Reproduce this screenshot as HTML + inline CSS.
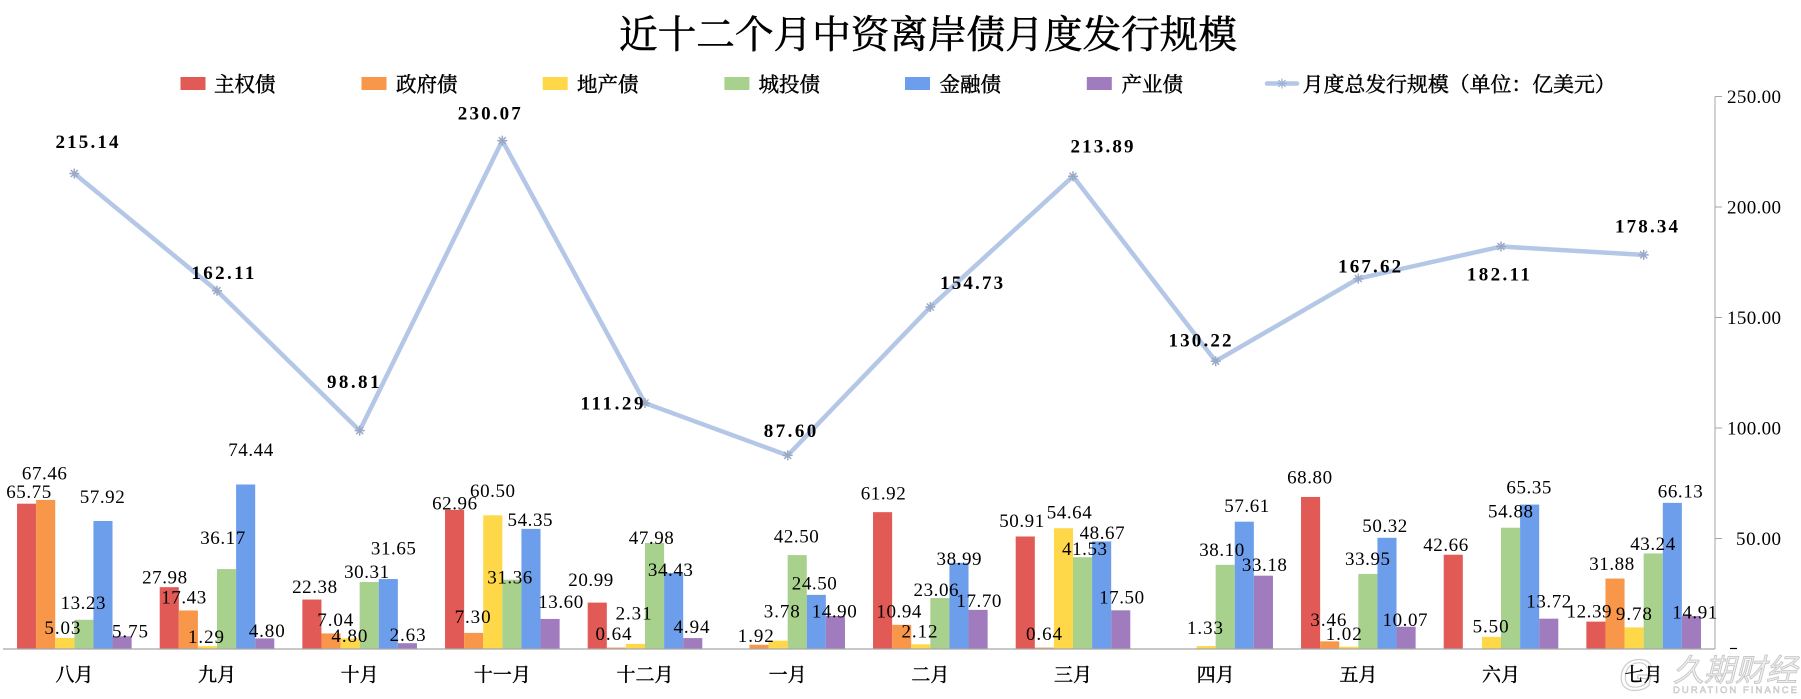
<!DOCTYPE html>
<html><head><meta charset="utf-8"><style>
html,body{margin:0;padding:0;background:#fff;}
svg{display:block;}
.cj{font-family:"Liberation Serif","Noto Serif CJK SC",serif;}
.n{font-family:"Liberation Serif","Noto Serif CJK SC",serif;font-size:19px;fill:#000;text-anchor:middle;}
.L{font-family:"Liberation Serif","Noto Serif CJK SC",serif;font-size:19px;font-weight:bold;fill:#000;text-anchor:middle;}
.ax{font-family:"Liberation Serif","Noto Serif CJK SC",serif;font-size:19px;fill:#000;}
.cat{font-family:"Liberation Serif","Noto Serif CJK SC",serif;font-size:19px;fill:#000;text-anchor:middle;stroke:#000;stroke-width:0.45px;}
.lg{font-family:"Liberation Serif","Noto Serif CJK SC",serif;font-size:20.5px;fill:#000;stroke:#000;stroke-width:0.45px;}
</style></head><body>
<svg width="1801" height="699" viewBox="0 0 1801 699" xmlns="http://www.w3.org/2000/svg">
<rect width="1801" height="699" fill="#fff"/>
<!-- title -->
<text class="cj" x="619" y="48" font-size="38.6" textLength="618" lengthAdjust="spacingAndGlyphs" fill="#000" stroke="#000" stroke-width="0.6">近十二个月中资离岸债月度发行规模</text>
<!-- legend -->
<rect x="180.5" y="77" width="25" height="13" fill="#E15A55"/><text class="lg" x="214" y="91.5">主权债</text>
<rect x="361.5" y="77" width="25" height="13" fill="#F8964A"/><text class="lg" x="396" y="91.5">政府债</text>
<rect x="542.7" y="77" width="25" height="13" fill="#FFD84A"/><text class="lg" x="577" y="91.5">地产债</text>
<rect x="724.4" y="77" width="25" height="13" fill="#A9D18E"/><text class="lg" x="758.5" y="91.5">城投债</text>
<rect x="905" y="77" width="25" height="13" fill="#6D9EEB"/><text class="lg" x="939.5" y="91.5">金融债</text>
<rect x="1086.8" y="77" width="25" height="13" fill="#A07CBE"/><text class="lg" x="1121.5" y="91.5">产业债</text>
<line x1="1267" y1="83.5" x2="1297" y2="83.5" stroke="#B4C7E7" stroke-width="4.5" stroke-linecap="round"/>
<g stroke="#9FB2D4" stroke-width="1.2"><line x1="1277" y1="83.5" x2="1287" y2="83.5"/><line x1="1282" y1="78.5" x2="1282" y2="88.5"/><line x1="1278.5" y1="80" x2="1285.5" y2="87"/><line x1="1285.5" y1="80" x2="1278.5" y2="87"/></g>
<text class="lg" x="1302.7" y="91.5" textLength="313" lengthAdjust="spacingAndGlyphs">月度总发行规模（单位：亿美元）</text>

<!-- right axis -->
<line x1="1715" y1="96.5" x2="1715" y2="649" stroke="#A6A6A6" stroke-width="1"/>
<g stroke="#A6A6A6" stroke-width="1">
<line x1="1715" y1="96.5" x2="1722" y2="96.5"/><line x1="1715" y1="207" x2="1722" y2="207"/><line x1="1715" y1="317.5" x2="1722" y2="317.5"/><line x1="1715" y1="428" x2="1722" y2="428"/><line x1="1715" y1="538.5" x2="1722" y2="538.5"/>
</g>
<text class="ax" x="1727" y="103" textLength="54">250.00</text>
<text class="ax" x="1727" y="213.5" textLength="54">200.00</text>
<text class="ax" x="1727" y="324" textLength="54">150.00</text>
<text class="ax" x="1727" y="434.5" textLength="54">100.00</text>
<text class="ax" x="1736" y="545" textLength="45">50.00</text>
<line x1="1730" y1="648.5" x2="1737" y2="648.5" stroke="#000" stroke-width="1.2"/>

<!-- bars -->
<g transform="matrix(1 0 0 -2.21 0 649)">
<g fill="#E15A55">
<rect x="17.03" y="0" width="19.1" height="65.75"/><rect x="159.70" y="0" width="19.1" height="27.98"/><rect x="302.36" y="0" width="19.1" height="22.38"/><rect x="445.03" y="0" width="19.1" height="62.96"/><rect x="587.70" y="0" width="19.1" height="20.99"/><rect x="873.03" y="0" width="19.1" height="61.92"/><rect x="1015.70" y="0" width="19.1" height="50.91"/><rect x="1301.03" y="0" width="19.1" height="68.80"/><rect x="1443.70" y="0" width="19.1" height="42.66"/><rect x="1586.36" y="0" width="19.1" height="12.39"/>
</g>
<g fill="#F8964A">
<rect x="36.13" y="0" width="19.1" height="67.46"/><rect x="178.80" y="0" width="19.1" height="17.43"/><rect x="321.46" y="0" width="19.1" height="7.04"/><rect x="464.13" y="0" width="19.1" height="7.30"/><rect x="606.80" y="0" width="19.1" height="0.64"/><rect x="749.46" y="0" width="19.1" height="1.92"/><rect x="892.13" y="0" width="19.1" height="10.94"/><rect x="1034.80" y="0" width="19.1" height="0.64"/><rect x="1320.13" y="0" width="19.1" height="3.46"/><rect x="1605.46" y="0" width="19.1" height="31.88"/>
</g>
<g fill="#FFD84A">
<rect x="55.23" y="0" width="19.1" height="5.03"/><rect x="197.90" y="0" width="19.1" height="1.29"/><rect x="340.56" y="0" width="19.1" height="4.80"/><rect x="483.23" y="0" width="19.1" height="60.50"/><rect x="625.90" y="0" width="19.1" height="2.31"/><rect x="768.56" y="0" width="19.1" height="3.78"/><rect x="911.23" y="0" width="19.1" height="2.12"/><rect x="1053.90" y="0" width="19.1" height="54.64"/><rect x="1196.56" y="0" width="19.1" height="1.33"/><rect x="1339.23" y="0" width="19.1" height="1.02"/><rect x="1481.90" y="0" width="19.1" height="5.50"/><rect x="1624.56" y="0" width="19.1" height="9.78"/>
</g>
<g fill="#A9D18E">
<rect x="74.33" y="0" width="19.1" height="13.23"/><rect x="217.00" y="0" width="19.1" height="36.17"/><rect x="359.66" y="0" width="19.1" height="30.31"/><rect x="502.33" y="0" width="19.1" height="31.36"/><rect x="645.00" y="0" width="19.1" height="47.98"/><rect x="787.66" y="0" width="19.1" height="42.50"/><rect x="930.33" y="0" width="19.1" height="23.06"/><rect x="1073.00" y="0" width="19.1" height="41.53"/><rect x="1215.66" y="0" width="19.1" height="38.10"/><rect x="1358.33" y="0" width="19.1" height="33.95"/><rect x="1501.00" y="0" width="19.1" height="54.88"/><rect x="1643.66" y="0" width="19.1" height="43.24"/>
</g>
<g fill="#6D9EEB">
<rect x="93.43" y="0" width="19.1" height="57.92"/><rect x="236.10" y="0" width="19.1" height="74.44"/><rect x="378.76" y="0" width="19.1" height="31.65"/><rect x="521.43" y="0" width="19.1" height="54.35"/><rect x="664.10" y="0" width="19.1" height="34.43"/><rect x="806.76" y="0" width="19.1" height="24.50"/><rect x="949.43" y="0" width="19.1" height="38.99"/><rect x="1092.10" y="0" width="19.1" height="48.67"/><rect x="1234.76" y="0" width="19.1" height="57.61"/><rect x="1377.43" y="0" width="19.1" height="50.32"/><rect x="1520.10" y="0" width="19.1" height="65.35"/><rect x="1662.76" y="0" width="19.1" height="66.13"/>
</g>
<g fill="#A07CBE">
<rect x="112.53" y="0" width="19.1" height="5.75"/><rect x="255.20" y="0" width="19.1" height="4.80"/><rect x="397.86" y="0" width="19.1" height="2.63"/><rect x="540.53" y="0" width="19.1" height="13.60"/><rect x="683.20" y="0" width="19.1" height="4.94"/><rect x="825.86" y="0" width="19.1" height="14.90"/><rect x="968.53" y="0" width="19.1" height="17.70"/><rect x="1111.20" y="0" width="19.1" height="17.50"/><rect x="1253.86" y="0" width="19.1" height="33.18"/><rect x="1396.53" y="0" width="19.1" height="10.07"/><rect x="1539.20" y="0" width="19.1" height="13.72"/><rect x="1681.86" y="0" width="19.1" height="14.91"/>
</g>
</g>
<!-- baseline -->
<line x1="3" y1="649" x2="1715" y2="649" stroke="#A6A6A6" stroke-width="1.2"/>

<!-- total line -->
<polyline fill="none" stroke="#B4C7E7" stroke-width="4.5" stroke-linejoin="round" points="74.33,173.54 217,290.74 359.67,430.63 502.33,140.55 645,403.05 787.67,455.4 930.33,307.05 1073,176.3 1215.67,361.21 1358.33,278.56 1501,246.54 1643.67,254.87"/>
<g stroke="#9AA9C6" stroke-width="1.5">
<path d="M69.3 173.5h10M74.3 168.5v10M70.8 170l7 7M77.8 170l-7 7"/>
<path d="M212 290.7h10M217 285.7v10M213.5 287.2l7 7M220.5 287.2l-7 7"/>
<path d="M354.7 430.6h10M359.7 425.6v10M356.2 427.1l7 7M363.2 427.1l-7 7"/>
<path d="M497.3 140.6h10M502.3 135.6v10M498.8 137.1l7 7M505.8 137.1l-7 7"/>
<path d="M640 403h10M645 398v10M641.5 399.5l7 7M648.5 399.5l-7 7"/>
<path d="M782.7 455.4h10M787.7 450.4v10M784.2 451.9l7 7M791.2 451.9l-7 7"/>
<path d="M925.3 307h10M930.3 302v10M926.8 303.5l7 7M933.8 303.5l-7 7"/>
<path d="M1068 176.3h10M1073 171.3v10M1069.5 172.8l7 7M1076.5 172.8l-7 7"/>
<path d="M1210.7 361.2h10M1215.7 356.2v10M1212.2 357.7l7 7M1219.2 357.7l-7 7"/>
<path d="M1353.3 278.6h10M1358.3 273.6v10M1354.8 275.1l7 7M1361.8 275.1l-7 7"/>
<path d="M1496 246.5h10M1501 241.5v10M1497.5 243l7 7M1504.5 243l-7 7"/>
<path d="M1638.7 254.9h10M1643.7 249.9v10M1640.2 251.4l7 7M1647.2 251.4l-7 7"/>
</g>

<!-- line labels -->
<text class="L" x="87" y="148" textLength="63">215.14</text>
<text class="L" x="222.9" y="279" textLength="63">162.11</text>
<text class="L" x="353.2" y="388" textLength="52.5">98.81</text>
<text class="L" x="489.3" y="119.6" textLength="63">230.07</text>
<text class="L" x="612" y="409.6" textLength="63">111.29</text>
<text class="L" x="790" y="437" textLength="52.5">87.60</text>
<text class="L" x="971.6" y="289" textLength="63">154.73</text>
<text class="L" x="1102" y="152.3" textLength="63">213.89</text>
<text class="L" x="1200" y="346.3" textLength="63">130.22</text>
<text class="L" x="1369.6" y="272.6" textLength="63">167.62</text>
<text class="L" x="1498.4" y="280.3" textLength="63">182.11</text>
<text class="L" x="1646.5" y="232.3" textLength="63">178.34</text>

<!-- bar labels -->
<g>
<text class="n" x="28.7" y="497.8" textLength="45">65.75</text>
<text class="n" x="44.4" y="479.5" textLength="45">67.46</text>
<text class="n" x="62.4" y="634.1" textLength="36">5.03</text>
<text class="n" x="83" y="609.1" textLength="45">13.23</text>
<text class="n" x="102.2" y="502.8" textLength="45">57.92</text>
<text class="n" x="130" y="637.5" textLength="36">5.75</text>

<text class="n" x="164.6" y="583.5" textLength="45">27.98</text>
<text class="n" x="183.7" y="603.5" textLength="45">17.43</text>
<text class="n" x="206" y="642.8" textLength="36">1.29</text>
<text class="n" x="222.7" y="544.1" textLength="45">36.17</text>
<text class="n" x="250.7" y="456.1" textLength="45">74.44</text>
<text class="n" x="266.7" y="636.8" textLength="36">4.80</text>

<text class="n" x="314.6" y="592.8" textLength="45">22.38</text>
<text class="n" x="335.3" y="626.1" textLength="36">7.04</text>
<text class="n" x="349.4" y="641.8" textLength="36">4.80</text>
<text class="n" x="366.6" y="577.8" textLength="45">30.31</text>
<text class="n" x="393.4" y="554.5" textLength="45">31.65</text>
<text class="n" x="407.6" y="640.8" textLength="36">2.63</text>

<text class="n" x="454.6" y="509.5" textLength="45">62.96</text>
<text class="n" x="472.6" y="622.8" textLength="36">7.30</text>
<text class="n" x="492.5" y="496.8" textLength="45">60.50</text>
<text class="n" x="509.8" y="583.5" textLength="45">31.36</text>
<text class="n" x="530" y="525.8" textLength="45">54.35</text>
<text class="n" x="560.7" y="607.8" textLength="45">13.60</text>

<text class="n" x="590.8" y="585.8" textLength="45">20.99</text>
<text class="n" x="613.5" y="640.1" textLength="36">0.64</text>
<text class="n" x="633.6" y="619.5" textLength="36">2.31</text>
<text class="n" x="651.3" y="544.1" textLength="45">47.98</text>
<text class="n" x="670.4" y="576.1" textLength="45">34.43</text>
<text class="n" x="691.5" y="632.8" textLength="36">4.94</text>

<text class="n" x="755.8" y="641.8" textLength="36">1.92</text>
<text class="n" x="781.8" y="617.5" textLength="36">3.78</text>
<text class="n" x="796.3" y="542.5" textLength="45">42.50</text>
<text class="n" x="814.3" y="589.5" textLength="45">24.50</text>
<text class="n" x="834.2" y="617.5" textLength="45">14.90</text>

<text class="n" x="883.2" y="499.5" textLength="45">61.92</text>
<text class="n" x="898.9" y="617.5" textLength="45">10.94</text>
<text class="n" x="919.5" y="637.5" textLength="36">2.12</text>
<text class="n" x="936" y="596.1" textLength="45">23.06</text>
<text class="n" x="959" y="565.1" textLength="45">38.99</text>
<text class="n" x="978.9" y="606.8" textLength="45">17.70</text>

<text class="n" x="1021.7" y="526.8" textLength="45">50.91</text>
<text class="n" x="1044" y="640.1" textLength="36">0.64</text>
<text class="n" x="1069.2" y="518.5" textLength="45">54.64</text>
<text class="n" x="1084.5" y="555.1" textLength="45">41.53</text>
<text class="n" x="1102.1" y="539.1" textLength="45">48.67</text>
<text class="n" x="1121.6" y="603.5" textLength="45">17.50</text>

<text class="n" x="1205" y="634.1" textLength="36">1.33</text>
<text class="n" x="1221.7" y="556.1" textLength="45">38.10</text>
<text class="n" x="1246.8" y="511.8" textLength="45">57.61</text>
<text class="n" x="1264.4" y="571.1" textLength="45">33.18</text>

<text class="n" x="1309.6" y="483.5" textLength="45">68.80</text>
<text class="n" x="1328.4" y="625.8" textLength="36">3.46</text>
<text class="n" x="1343.7" y="640.1" textLength="36">1.02</text>
<text class="n" x="1367.5" y="565.1" textLength="45">33.95</text>
<text class="n" x="1384.8" y="531.8" textLength="45">50.32</text>
<text class="n" x="1405" y="625.8" textLength="45">10.07</text>

<text class="n" x="1445.7" y="550.8" textLength="45">42.66</text>
<text class="n" x="1490.6" y="632.5" textLength="36">5.50</text>
<text class="n" x="1510.5" y="517.5" textLength="45">54.88</text>
<text class="n" x="1528.9" y="493.5" textLength="45">65.35</text>
<text class="n" x="1548.8" y="607.5" textLength="45">13.72</text>

<text class="n" x="1589" y="617.5" textLength="45">12.39</text>
<text class="n" x="1611.7" y="570.1" textLength="45">31.88</text>
<text class="n" x="1633.9" y="620.1" textLength="36">9.78</text>
<text class="n" x="1652.7" y="550.1" textLength="45">43.24</text>
<text class="n" x="1680.3" y="497.5" textLength="45">66.13</text>
<text class="n" x="1694.8" y="618.5" textLength="45">14.91</text>
</g>

<!-- watermark -->
<g opacity="0.9">
<text x="1619" y="690" font-family="Liberation Sans, sans-serif" font-size="44" font-style="italic" fill="none" stroke="#C8C8C8" stroke-width="1.2">G</text>
<text x="1673" y="681" font-family="Liberation Sans, Noto Sans CJK SC, sans-serif" font-size="31" fill="#EDEDED" stroke="#BDBDBD" stroke-width="0.8" textLength="124" font-style="italic">久期财经</text>
<text x="1673" y="693" font-family="Liberation Sans, sans-serif" font-size="9.5" fill="#E4E4E4" stroke="#BDBDBD" stroke-width="0.5" textLength="124">DURATION FINANCE</text>
</g>

<!-- category labels -->
<g>
<text class="cat" x="74.33" y="681">八月</text>
<text class="cat" x="217" y="681">九月</text>
<text class="cat" x="359.67" y="681">十月</text>
<text class="cat" x="502.33" y="681">十一月</text>
<text class="cat" x="645" y="681">十二月</text>
<text class="cat" x="787.67" y="681">一月</text>
<text class="cat" x="930.33" y="681">二月</text>
<text class="cat" x="1073" y="681">三月</text>
<text class="cat" x="1215.67" y="681">四月</text>
<text class="cat" x="1358.33" y="681">五月</text>
<text class="cat" x="1501" y="681">六月</text>
<text class="cat" x="1643.67" y="681">七月</text>
</g>
</svg>
</body></html>
